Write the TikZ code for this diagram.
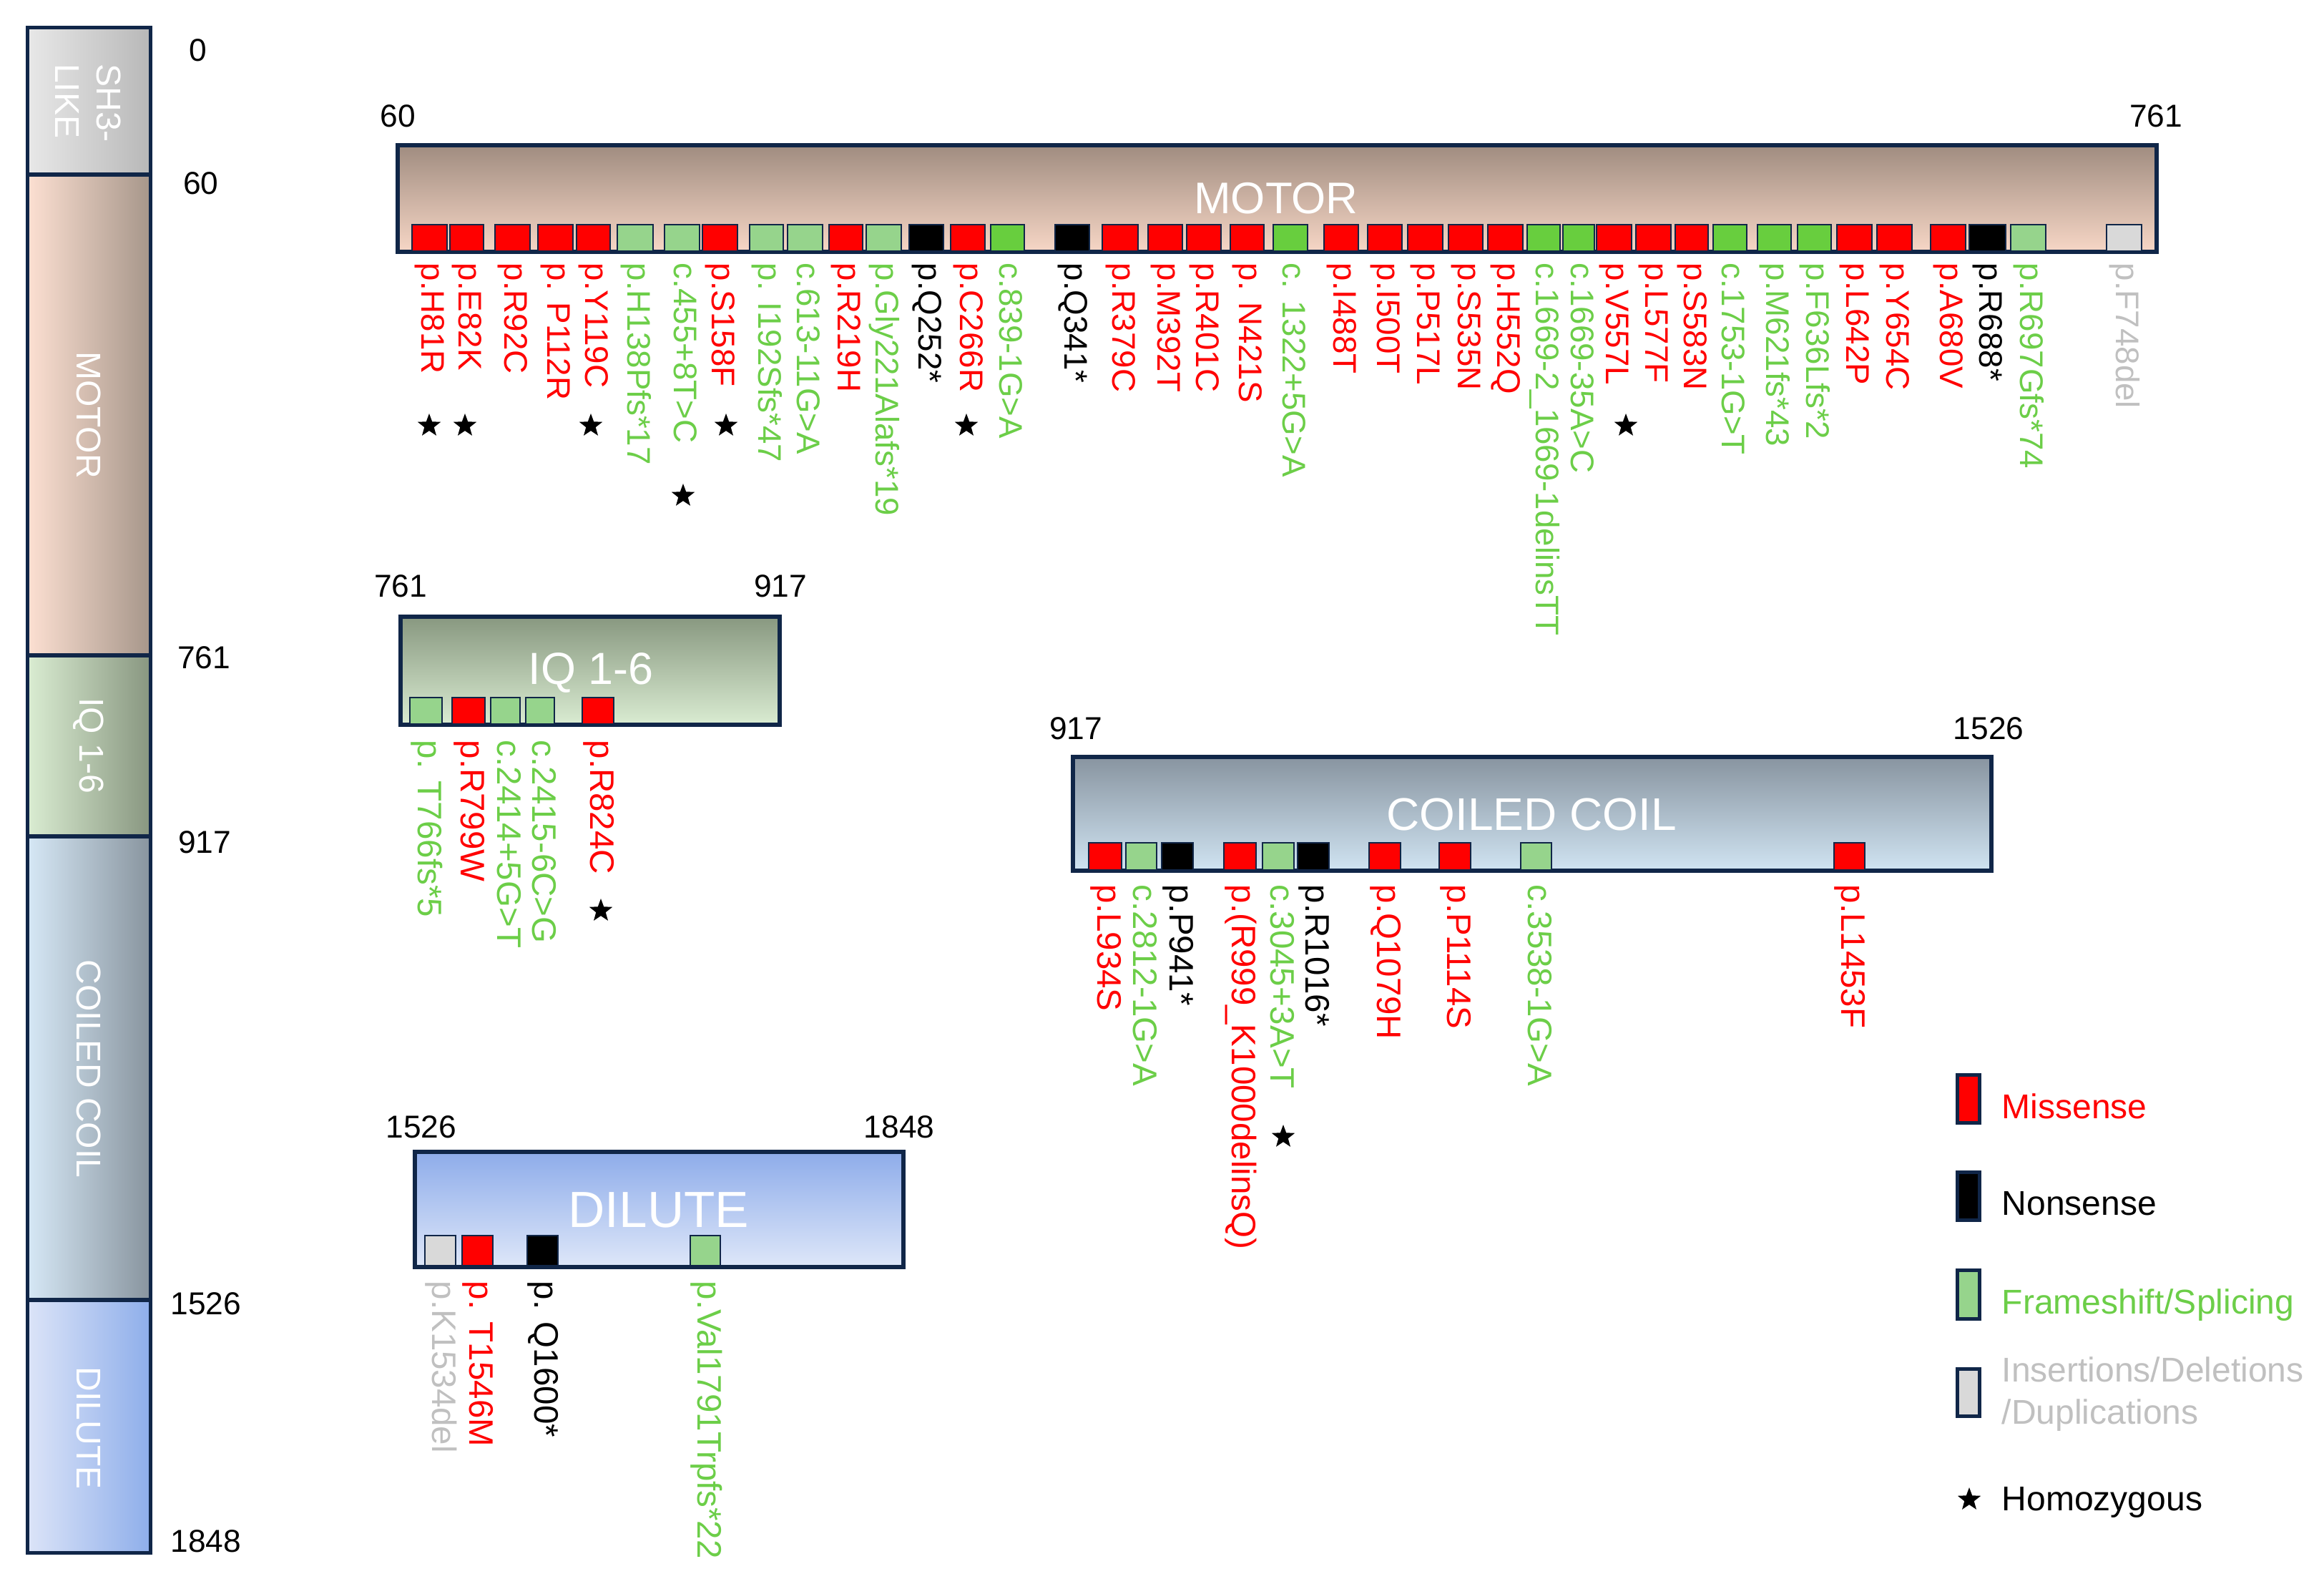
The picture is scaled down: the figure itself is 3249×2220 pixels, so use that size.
\documentclass[tikz,border=0pt]{standalone}
\usepackage{fontspec}
\setmainfont{Liberation Sans}
\usetikzlibrary{shapes.geometric}
\definecolor{navy}{RGB}{16,38,72}
\definecolor{mred}{RGB}{255,0,0}
\definecolor{lgreen}{RGB}{150,212,140}
\definecolor{bgreen}{RGB}{104,206,62}
\definecolor{tgreen}{RGB}{108,206,72}
\definecolor{mgray}{RGB}{217,217,217}
\definecolor{tgray}{RGB}{192,192,192}
\definecolor{motTop}{RGB}{160,140,128}
\definecolor{motBot}{RGB}{247,215,198}
\definecolor{iqTop}{RGB}{136,152,128}
\definecolor{iqBot}{RGB}{218,236,210}
\definecolor{ccTop}{RGB}{136,148,160}
\definecolor{ccBot}{RGB}{208,228,242}
\definecolor{dilTop}{RGB}{142,172,234}
\definecolor{dilBot}{RGB}{222,231,249}
\definecolor{shL}{RGB}{232,232,232}
\definecolor{shR}{RGB}{184,184,184}
\definecolor{motL}{RGB}{253,224,210}
\definecolor{motR}{RGB}{166,150,138}
\definecolor{iqL}{RGB}{218,237,210}
\definecolor{iqR}{RGB}{136,150,128}
\definecolor{ccL}{RGB}{214,232,246}
\definecolor{ccR}{RGB}{136,148,158}
\definecolor{dilL}{RGB}{220,228,248}
\definecolor{dilR}{RGB}{142,174,234}
\newcommand\labfont{\fontsize{13.5}{15}\selectfont}
\newcommand\motlabfont{\fontsize{13.0}{15}\selectfont}
\newcommand\numfont{\fontsize{12.6}{15}\selectfont}
\newcommand\legfont{\fontsize{13.66}{15.6}\selectfont}
\newcommand\barfont{\fontsize{13.66}{16.5}\selectfont}
\tikzset{
  mbox/.style={draw=navy, line width=0.025cm},
  domainbox/.style={draw=navy, line width=0.06cm},
  lab/.style={rotate=-90, anchor=west, inner sep=0pt, font=\labfont, text height=0.72em, text depth=0.1em},
  hstar/.style={star, star points=5, star point ratio=2.4, fill=black, draw=none, inner sep=0pt, minimum size=0.34cm},
  num/.style={font=\numfont, inner sep=0pt, text=black},
  title/.style={text=white, inner sep=0pt},
  barlab/.style={text=white, inner sep=0pt, rotate=-90, font=\barfont},
  legbox/.style={draw=navy, line width=0.05cm},
  legtext/.style={anchor=base west, inner sep=0pt, font=\legfont},
}
\newcommand\mutation[6]{%
  \path[mbox,fill=#4] (#2,\mytop) rectangle (#3,\mybot);
  \node[lab,text=#5,font=\curlabfont] (#1) at ({(#2+#3)/2},\mylab) {#6};}
\begin{document}
\begin{tikzpicture}[x=0.01cm,y=-0.01cm]
\useasboundingbox (0,0) rectangle (3249,2220);
\fill[white] (0,0) rectangle (3249,2220);

% ---------------- left overview bar ----------------
\path[left color=shL, right color=shR] (38,38) rectangle (211,244);
\path[left color=motL, right color=motR] (38,244) rectangle (211,916);
\path[left color=iqL, right color=iqR] (38,916) rectangle (211,1169);
\path[left color=ccL, right color=ccR] (38,1169) rectangle (211,1817);
\path[left color=dilL, right color=dilR] (38,1817) rectangle (211,2171);
\draw[navy, line width=0.06cm] (38,244) -- (211,244);
\draw[navy, line width=0.06cm] (38,916) -- (211,916);
\draw[navy, line width=0.06cm] (38,1169) -- (211,1169);
\draw[navy, line width=0.06cm] (38,1817) -- (211,1817);
\draw[navy, line width=0.05cm] (38.5,38.5) rectangle (210.5,2170.5);
\node[barlab, align=left] (bsh3) at (123,144) {SH3-\\LIKE};
\node[barlab] (bmot) at (124,580) {MOTOR};
\node[barlab] (biq) at (124,1042) {IQ 1-6};
\node[barlab] (bcc) at (124,1494) {COILED COIL};
\node[barlab] (bdil) at (124,1996) {DILUTE};

\node[num] (n0) at (277,70) {0};
\node[num] (n60) at (281,256) {60};
\node[num] (n761) at (285,919) {761};
\node[num] (n917) at (286,1177) {917};
\node[num] (n1526) at (288,1822) {1526};
\node[num] (n1848) at (288,2154) {1848};

% ---------------- domain boxes ----------------
\path[domainbox, top color=motTop, bottom color=motBot] (556,203) rectangle (3015,352);
\path[domainbox, top color=iqTop, bottom color=iqBot] (560,862) rectangle (1090,1013);
\path[domainbox, top color=ccTop, bottom color=ccBot] (1500,1058) rectangle (2784,1217);
\path[domainbox, top color=dilTop, bottom color=dilBot] (580,1610) rectangle (1263,1771);

\node[title, font=\fontsize{17.6}{20}\selectfont] (tmot) at (1784,277) {MOTOR};
\node[title, font=\fontsize{17.9}{20}\selectfont] (tiq) at (826,940) {IQ 1-6};
\node[title, font=\fontsize{18.2}{20}\selectfont] (tcc) at (2141,1138) {COILED COIL};
\node[title, font=\fontsize{20.2}{22}\selectfont] (tdil) at (921,1691) {DILUTE};

\node[num] (a60) at (556,162) {60};
\node[num] (a761) at (3014,162) {761};
\node[num] (b761) at (560,819) {761};
\node[num] (b917) at (1091,819) {917};
\node[num] (c917) at (1504,1018) {917};
\node[num] (c1526) at (2780,1018) {1526};
\node[num] (d1526) at (589,1575) {1526};
\node[num] (d1848) at (1257,1575) {1848};

% ---------------- MOTOR mutations ----------------
\def\curlabfont{\motlabfont}
\def\mytop{314}\def\mybot{351}\def\mylab{367}
\mutation{m1}{576}{625}{mred}{mred}{p.H81R}
\mutation{m2}{629}{676}{mred}{mred}{p.E82K}
\mutation{m3}{692}{741}{mred}{mred}{p.R92C}
\mutation{m4}{752}{801}{mred}{mred}{p. P112R}
\mutation{m5}{806}{853}{mred}{mred}{p.Y119C}
\mutation{m6}{863}{913}{lgreen}{tgreen}{p.H138Pfs*17}
\mutation{m7}{929}{978}{lgreen}{tgreen}{c.455+8T>C}
\mutation{m8}{982}{1031}{mred}{mred}{p.S158F}
\mutation{m9}{1048}{1095}{lgreen}{tgreen}{p. I192Sfs*47}
\mutation{m10}{1101}{1150}{lgreen}{tgreen}{c.613-11G>A}
\mutation{m11}{1159}{1206}{mred}{mred}{p.R219H}
\mutation{m12}{1211}{1260}{lgreen}{tgreen}{p.Gly221Alafs*19}
\mutation{m13}{1271}{1319}{black}{black}{p.Q252*}
\mutation{m14}{1329}{1377}{mred}{mred}{p.C266R}
\mutation{m15}{1385}{1432}{bgreen}{tgreen}{c.839-1G>A}
\mutation{m16}{1475}{1523}{black}{black}{p.Q341*}
\mutation{m17}{1541}{1591}{mred}{mred}{p.R379C}
\mutation{m18}{1605}{1653}{mred}{mred}{p.M392T}
\mutation{m19}{1659}{1707}{mred}{mred}{p.R401C}
\mutation{m20}{1720}{1767}{mred}{mred}{p. N421S}
\mutation{m21}{1780}{1828}{bgreen}{tgreen}{c. 1322+5G>A}
\mutation{m22}{1851}{1899}{mred}{mred}{p.I488T}
\mutation{m23}{1912}{1960}{mred}{mred}{p.I500T}
\mutation{m24}{1968}{2017}{mred}{mred}{p.P517L}
\mutation{m25}{2025}{2073}{mred}{mred}{p.S535N}
\mutation{m26}{2080}{2129}{mred}{mred}{p.H552Q}
\mutation{m27}{2135}{2181}{bgreen}{tgreen}{c.1669-2\_1669-1delinsTT}
\mutation{m28}{2185}{2229}{bgreen}{tgreen}{c.1669-35A>C}
\mutation{m29}{2232}{2281}{mred}{mred}{p.V557L}
\mutation{m30}{2287}{2336}{mred}{mred}{p.L577F}
\mutation{m31}{2342}{2388}{mred}{mred}{p.S583N}
\mutation{m32}{2395}{2442}{bgreen}{tgreen}{c.1753-1G>T}
\mutation{m33}{2457}{2504}{bgreen}{tgreen}{p.M621fs*43}
\mutation{m34}{2513}{2560}{bgreen}{tgreen}{p.F636Lfs*2}
\mutation{m35}{2568}{2617}{mred}{mred}{p.L642P}
\mutation{m36}{2624}{2673}{mred}{mred}{p.Y654C}
\mutation{m37}{2699}{2748}{mred}{mred}{p.A680V}
\mutation{m38}{2753}{2804}{black}{black}{p.R688*}
\mutation{m39}{2811}{2860}{lgreen}{tgreen}{p.R697Gfs*74}
\mutation{m40}{2945}{2994}{mgray}{tgray}{p.F748del}

% ---------------- IQ mutations ----------------
\def\curlabfont{\labfont}
\def\mytop{975}\def\mybot{1012}\def\mylab{1034}
\mutation{i1}{573}{618}{lgreen}{tgreen}{p. T766fs*5}
\mutation{i2}{632}{678}{mred}{mred}{p.R799W}
\mutation{i3}{686}{727}{lgreen}{tgreen}{c.2414+5G>T}
\mutation{i4}{735}{775}{lgreen}{tgreen}{c.2415-6C>G}
\mutation{i5}{814}{858}{mred}{mred}{p.R824C}

% ---------------- COILED COIL mutations ----------------
\def\mytop{1178}\def\mybot{1216}\def\mylab{1236}
\mutation{c1}{1522}{1568}{mred}{mred}{p.L934S}
\mutation{c2}{1574}{1617}{lgreen}{tgreen}{c.2812-1G>A}
\mutation{c3}{1624}{1668}{black}{black}{p.P941*}
\mutation{c4}{1711}{1756}{mred}{mred}{p.(R999\_K1000delinsQ)}
\mutation{c5}{1765}{1809}{lgreen}{tgreen}{c.3045+3A>T}
\mutation{c6}{1814}{1858}{black}{black}{p.R1016*}
\mutation{c7}{1914}{1958}{mred}{mred}{p.Q1079H}
\mutation{c8}{2012}{2056}{mred}{mred}{p.P1114S}
\mutation{c9}{2126}{2169}{lgreen}{tgreen}{c.3538-1G>A}
\mutation{c10}{2564}{2607}{mred}{mred}{p.L1453F}

% ---------------- DILUTE mutations ----------------
\def\mytop{1727}\def\mybot{1769}\def\mylab{1790}
\mutation{d1}{594}{637}{mgray}{tgray}{p.K1534del}
\mutation{d2}{646}{689}{mred}{mred}{p. T1546M}
\mutation{d3}{737}{780}{black}{black}{p. Q1600*}
\mutation{d4}{965}{1007}{lgreen}{tgreen}{p.Val1791Trpfs*22}

% ---------------- homozygous stars ----------------
\node[hstar] (s1) at (600,595) {};
\node[hstar] (s2) at (650,595) {};
\node[hstar] (s3) at (826,595) {};
\node[hstar] (s4) at (955,693) {};
\node[hstar] (s5) at (1015,595) {};
\node[hstar] (s6) at (1351,595) {};
\node[hstar] (s7) at (2273,595) {};
\node[hstar] (s8) at (840,1273) {};
\node[hstar] (s9) at (1794,1589) {};

% ---------------- legend ----------------
\path[legbox, fill=mred] (2736,1502) rectangle (2767,1569);
\path[legbox, fill=black] (2736,1638) rectangle (2767,1705);
\path[legbox, fill=lgreen] (2736,1775) rectangle (2767,1843);
\path[legbox, fill=mgray] (2736,1913) rectangle (2767,1979);
\node[hstar] (ls) at (2753,2096) {};
\node[legtext, text=mred] (lmis) at (2798,1563) {Missense};
\node[legtext, text=black] (lnon) at (2798,1698) {Nonsense};
\node[legtext, text=tgreen] (lfs) at (2798,1836) {Frameshift/Splicing};
\node[legtext, text=tgray] (lins1) at (2798,1931) {Insertions/Deletions};
\node[legtext, text=tgray] (lins2) at (2798,1990) {/Duplications};
\node[legtext, text=black] (lhom) at (2798,2111) {Homozygous};
\end{tikzpicture}
\end{document}
